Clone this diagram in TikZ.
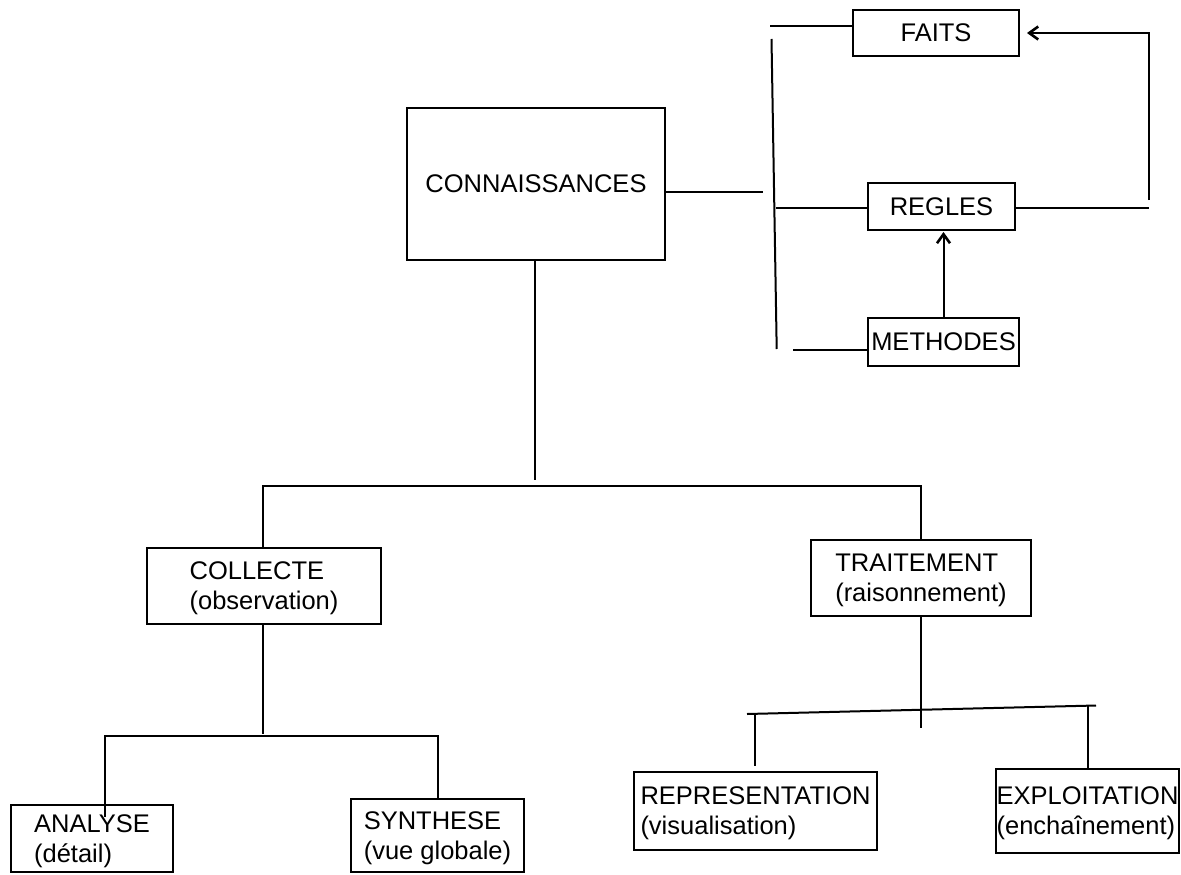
\documentclass[tikz,border=0pt]{standalone}
\usepackage{fontspec}
\setmainfont{Liberation Sans}
\usetikzlibrary{arrows.meta}
\begin{document}
\begin{tikzpicture}[x=1pt,y=-1pt,
  box/.style={draw, line width=2pt, inner sep=0pt, align=left,
    font=\fontsize{25.5}{30}\selectfont},
  twoline/.style={box, text depth=0pt},
  ln/.style={line width=2pt},
  arr/.style={ln, -{Straight Barb[length=9pt,width=13pt,line width=2.6pt]}}]
\useasboundingbox[fill=white] (0,0) rectangle (1181,875);
% boxes
\node[box, minimum width=166pt, minimum height=46pt] (faits) at (936,33) {FAITS};
\node[box, minimum width=147pt, minimum height=47pt] (regles) at (941.5,206.5) {REGLES};
\node[box, minimum width=151pt, minimum height=48pt] (methodes) at (943.5,342) {METHODES};
\node[box, minimum width=258pt, minimum height=152pt] (conn) at (536,184) {CONNAISSANCES};
\node[twoline, minimum width=234pt, minimum height=76pt] (collecte) at (264,586) {COLLECTE\\(observation)};
\node[twoline, minimum width=220pt, minimum height=76pt] (traitement) at (921,578) {TRAITEMENT\\(raisonnement)};
\node[twoline, minimum width=162pt, minimum height=67pt] (analyse) at (92,838.5) {ANALYSE\\(détail)};
\node[twoline, minimum width=173pt, minimum height=73pt] (synthese) at (437.5,835.5) {SYNTHESE\\(vue globale)};
\node[twoline, minimum width=243pt, minimum height=78pt] (repr) at (755.5,811) {REPRESENTATION\\(visualisation)};
\node[twoline, minimum width=183pt, minimum height=84pt] (expl) at (1087.5,811) {EXPLOITATION\\(enchaînement)};
% right-hand group
\coordinate (cR) at (763,191.7);
\draw[ln] (conn.east |- cR) -- (cR);
\coordinate (brT) at (771.5,39);
\coordinate (brB) at (776.7,349);
\draw[ln] (brT) -- (brB);
\coordinate (fL) at (770,25.7);
\draw[ln] (fL) -- (faits.west |- fL);
\coordinate (rL) at (776,207.7);
\draw[ln] (rL) -- (regles.west |- rL);
\coordinate (mL) at (793,350);
\draw[ln] (mL) -- (methodes.west |- mL);
\coordinate (rR) at (1149,208);
\draw[ln] (regles.east |- rR) -- (rR);
\coordinate (fbT) at (1149,200);
\coordinate (fbC) at (1149,33);
\draw[arr, shorten >=7pt] (fbT) -- (fbC) -- (faits.east |- fbC);
\draw[arr, shorten >=1pt] (methodes.north) -- (regles.south -| methodes.north);
% tree
\coordinate (cD) at (535,480);
\draw[ln] (conn.south -| cD) -- (cD);
\coordinate (h1L) at (263,486);
\coordinate (h1R) at (921,486);
\draw[ln] (collecte.north -| h1L) -- (h1L) -- (h1R) -- (traitement.north -| h1R);
\coordinate (cD2) at (263,734);
\draw[ln] (collecte.south -| cD2) -- (cD2);
\coordinate (h2L) at (105,736);
\coordinate (h2R) at (437.5,736);
\coordinate (aIn) at (105,817);
\draw[ln] (aIn) -- (h2L) -- (h2R) -- (synthese.north -| h2R);
\coordinate (tD) at (921,728);
\draw[ln] (traitement.south -| tD) -- (tD);
\coordinate (h3L) at (747,714);
\coordinate (h3R) at (1096,705.5);
\draw[ln] (h3L) -- (h3R);
\coordinate (rTop) at (755,713.8);
\coordinate (rEnd) at (755,766);
\draw[ln] (rTop) -- (rEnd);
\coordinate (eTop) at (1087.5,706);
\draw[ln] (eTop) -- (expl.north -| eTop);
\end{tikzpicture}
\end{document}
